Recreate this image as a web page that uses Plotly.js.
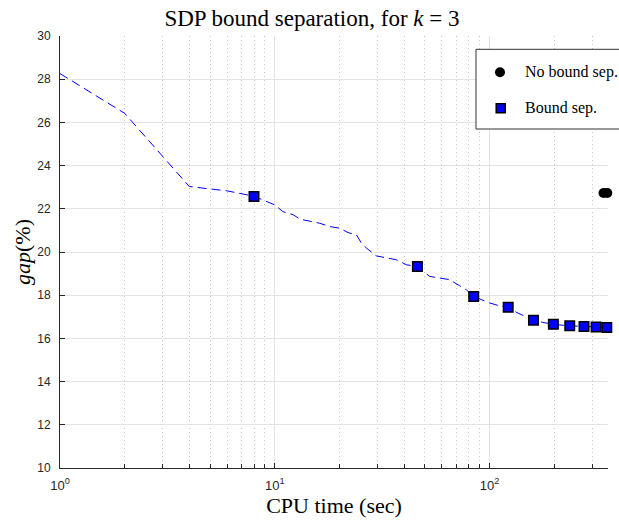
<!DOCTYPE html>
<html>
<head>
<meta charset="utf-8">
<script src="https://cdn.plot.ly/plotly-3.0.1.min.js"></script>
<style>html,body{margin:0;padding:0;background:#fff;}#chart{width:619px;height:521px;}</style>
</head>
<body>
<div id="chart"></div>
<script>
// Lower-bound history (dashed line)
const lineTime = [1, 2, 4, 6, 8, 9.15, 10.0, 10.9, 12.2, 13.1, 14.8, 16.2, 18.0, 20.1, 21.9, 24.0, 25.3, 26.7, 29.7, 33.1, 36.8, 41.0, 46.1, 52.6, 58.5, 65.1, 72.4, 77.9, 84.3, 91.5, 100, 111, 122, 133, 146, 160, 177, 198, 236, 275, 313, 351];
const lineGap = [28.26, 26.42, 23.03, 22.83, 22.58, 22.33, 22.18, 21.87, 21.72, 21.52, 21.41, 21.33, 21.18, 21.10, 20.90, 20.79, 20.41, 20.18, 19.82, 19.72, 19.64, 19.41, 19.33, 18.87, 18.79, 18.72, 18.44, 18.25, 17.94, 17.79, 17.64, 17.51, 17.44, 17.21, 17.02, 16.84, 16.74, 16.65, 16.58, 16.55, 16.53, 16.51];
// Bound separation points (squares)
const boundTime = [8, 46.1, 84.3, 122, 160, 198, 236, 275, 313, 351];
const boundGap = [22.57, 19.33, 17.94, 17.44, 16.84, 16.65, 16.58, 16.55, 16.53, 16.51];
// No bound separation (circles)
const noBoundTime = [339, 353];
const noBoundGap = [22.73, 22.73];
// Axis ticks
const xTickVals = [1, 10, 100];
const xTickText = ['10<sup>0</sup>', '10<sup>1</sup>', '10<sup>2</sup>'];
const yTickVals = [10, 12, 14, 16, 18, 20, 22, 24, 26, 28, 30];
// Legend labels
const legendLabels = ['No bound sep.', 'Bound sep.'];

const serif = 'Liberation Serif, Times New Roman, serif';
const sans = 'Liberation Sans, Arial, sans-serif';

const circleMarker = {symbol: 'circle', size: 10, color: '#000000', line: {width: 0}};
const squareMarker = {symbol: 'square', size: 9.5, color: '#0000ff', line: {color: '#000000', width: 1.5}};

const traces = [
  {x: lineTime, y: lineGap, type: 'scatter', mode: 'lines', showlegend: false,
   line: {color: '#0000ff', width: 1, dash: '9px,5px'}, hoverinfo: 'skip'},
  {x: noBoundTime, y: noBoundGap, type: 'scatter', mode: 'markers', name: legendLabels[0],
   cliponaxis: false, marker: circleMarker},
  {x: boundTime, y: boundGap, type: 'scatter', mode: 'markers', name: legendLabels[1],
   cliponaxis: false, marker: squareMarker}
];

// Legend box (drawn manually so it can run off the right edge like the original)
const legY = [0.916, 0.8326];
const shapes = [
  {type: 'rect', xref: 'paper', yref: 'paper', x0: 0.7591, x1: 1.05, y0: 0.7847, y1: 0.9692,
   fillcolor: '#ffffff', line: {color: '#333333', width: 1}, layer: 'above'},
  {type: 'circle', xref: 'paper', yref: 'paper', xsizemode: 'pixel', ysizemode: 'pixel',
   xanchor: 0.8029, yanchor: legY[0], x0: -5, x1: 5, y0: -5, y1: 5,
   fillcolor: '#000000', line: {width: 0}, layer: 'above'},
  {type: 'rect', xref: 'paper', yref: 'paper', xsizemode: 'pixel', ysizemode: 'pixel',
   xanchor: 0.8042, yanchor: legY[1], x0: -4.5, x1: 4.5, y0: -4.5, y1: 4.5,
   fillcolor: '#0000ff', line: {color: '#000000', width: 1.5}, layer: 'above'}
];
const annotations = legendLabels.map((t, i) => ({
  text: t, xref: 'paper', yref: 'paper', x: 0.845, y: legY[i], xanchor: 'left', yanchor: 'middle',
  showarrow: false, font: {family: serif, size: 16, color: '#000'}
}));

const layout = {
  width: 619, height: 521,
  margin: {l: 60, r: 11, t: 36, b: 53},
  paper_bgcolor: '#ffffff', plot_bgcolor: '#ffffff',
  showlegend: false,
  shapes: shapes, annotations: annotations,
  title: {text: 'SDP bound separation, for <i>k</i> = 3', font: {family: serif, size: 23, color: '#000'},
          xref: 'container', x: 0.504, xanchor: 'center', yref: 'container', y: 0.966, yanchor: 'middle'},
  xaxis: {type: 'log', range: [0, 2.551], tickmode: 'array', tickvals: xTickVals, ticktext: xTickText,
          showgrid: true, gridcolor: '#e3e3e3', gridwidth: 1,
          ticks: 'inside', ticklen: 5, tickcolor: '#262626', tickwidth: 1,
          showline: true, linecolor: '#262626', linewidth: 1, zeroline: false,
          tickfont: {family: sans, size: 13, color: '#262626'}, ticklabelstandoff: 5,
          minor: {dtick: 'D1', ticks: 'inside', ticklen: 4, tickcolor: '#262626', showgrid: true,
                  gridcolor: '#c4c4c4', griddash: '1px,3px', gridwidth: 1},
          title: {text: 'CPU time (sec)', font: {family: serif, size: 22, color: '#000'}, standoff: 6}},
  yaxis: {range: [10, 30], tickmode: 'array', tickvals: yTickVals,
          showgrid: true, gridcolor: '#e3e3e3', gridwidth: 1,
          ticks: 'inside', ticklen: 5, tickcolor: '#262626', tickwidth: 1,
          showline: true, linecolor: '#262626', linewidth: 1, zeroline: false,
          tickfont: {family: sans, size: 12, color: '#262626'}, ticklabelstandoff: 6,
          title: {text: '<i>gap</i>(%)', font: {family: serif, size: 22, color: '#000'}, standoff: 0}}
};

Plotly.newPlot('chart', traces, layout, {displayModeBar: false, staticPlot: true});
</script>
</body>
</html>
